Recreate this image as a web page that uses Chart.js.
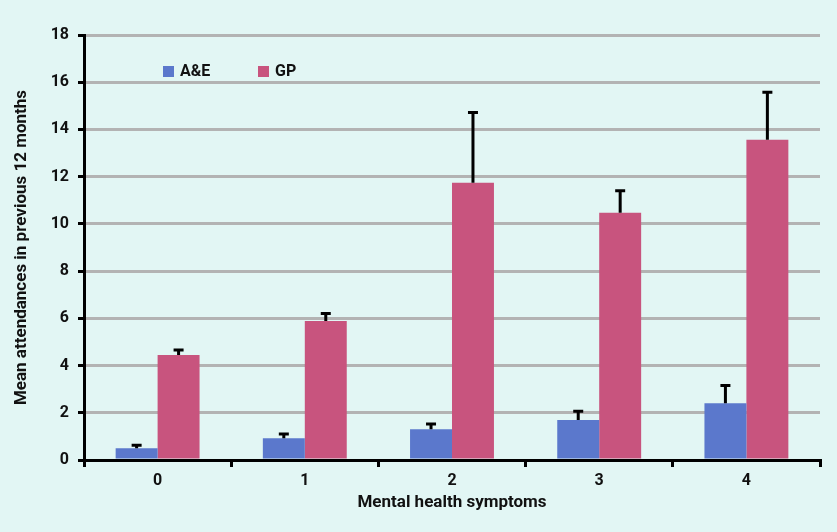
<!DOCTYPE html>
<html>
<head>
<meta charset="utf-8">
<script src="https://cdn.jsdelivr.net/npm/chart.js@4/dist/chart.umd.min.js"></script>
<style>
  body { margin: 0; background: #e2f6f4; }
  #wrap { width: 837px; height: 532px; }
</style>
</head>
<body>
<div id="wrap"><canvas id="bars" width="837" height="532"></canvas></div>
<script>
const categories = ['0', '1', '2', '3', '4'];
const aeValues = [0.5, 0.92, 1.3, 1.69, 2.4];
const aeUpper = [0.63, 1.1, 1.52, 2.07, 3.16];
const gpValues = [4.45, 5.89, 11.74, 10.47, 13.56];
const gpUpper = [4.66, 6.2, 14.72, 11.4, 15.58];
const yTicks = [0, 2, 4, 6, 8, 10, 12, 14, 16, 18];

const fontFam = 'Roboto, "DejaVu Sans", sans-serif';

// draws the upper error whiskers
const errorBars = {
  id: 'errorBars',
  afterDatasetsDraw(chart) {
    const ctx = chart.ctx;
    const y = chart.scales.y;
    chart.data.datasets.forEach((ds, i) => {
      const meta = chart.getDatasetMeta(i);
      meta.data.forEach((bar, j) => {
        const top = y.getPixelForValue(ds.upper[j]);
        ctx.save();
        ctx.strokeStyle = '#000';
        ctx.lineWidth = 3;
        ctx.beginPath();
        ctx.moveTo(bar.x, bar.y);
        ctx.lineTo(bar.x, top);
        ctx.moveTo(bar.x - 5, top);
        ctx.lineTo(bar.x + 5, top);
        ctx.stroke();
        ctx.restore();
      });
    });
  }
};

// legend placed inside the plot, top-left
const innerLegend = {
  id: 'innerLegend',
  afterDraw(chart) {
    const ctx = chart.ctx;
    const pos = [163, 258];
    ctx.save();
    ctx.font = 'bold 16px ' + fontFam;
    ctx.textBaseline = 'middle';
    chart.data.datasets.forEach((ds, i) => {
      ctx.fillStyle = ds.backgroundColor;
      ctx.fillRect(pos[i], 66, 11, 11);
      ctx.fillStyle = '#111';
      ctx.fillText(ds.label, pos[i] + 17, 72);
    });
    ctx.restore();
  }
};

new Chart(document.getElementById('bars'), {
  type: 'bar',
  data: {
    labels: categories,
    datasets: [
      { label: 'A&E', data: aeValues, upper: aeUpper, backgroundColor: '#5b78cc' },
      { label: 'GP', data: gpValues, upper: gpUpper, backgroundColor: '#c8547e' }
    ]
  },
  options: {
    responsive: false,
    animation: false,
    events: [],
    barPercentage: 1,
    categoryPercentage: 0.57,
    layout: { padding: { left: 12, top: 35, right: 17, bottom: 19 } },
    plugins: {
      legend: { display: false },
      tooltip: { enabled: false }
    },
    scales: {
      x: {
        afterFit(s) { s.height = 53; },
        grid: { drawOnChartArea: false, color: '#000', tickColor: '#000', tickLength: 7, lineWidth: 3 },
        border: { color: '#000', width: 3 },
        ticks: { color: '#111', font: { family: fontFam, size: 16, weight: 'bold' }, padding: 4 },
        title: {
          display: true,
          text: 'Mental health symptoms',
          color: '#111',
          font: { family: fontFam, size: 17, weight: 'bold' },
          padding: { top: 4, bottom: 0 }
        }
      },
      y: {
        min: 0,
        max: 18,
        afterFit(s) { s.width = 72; },
        afterBuildTicks(s) { s.ticks = yTicks.map(v => ({ value: v })); },
        grid: { color: '#b3b3b3', lineWidth: 3, tickColor: '#000', tickLength: 6 },
        border: { color: '#000', width: 3 },
        ticks: { color: '#111', font: { family: fontFam, size: 16, weight: 'bold' }, padding: 9 },
        title: {
          display: true,
          text: 'Mean attendances in previous 12 months',
          color: '#111',
          font: { family: fontFam, size: 17, weight: 'bold' },
          padding: { top: 0, bottom: 0 }
        }
      }
    }
  },
  plugins: [errorBars, innerLegend]
});
</script>
</body>
</html>
